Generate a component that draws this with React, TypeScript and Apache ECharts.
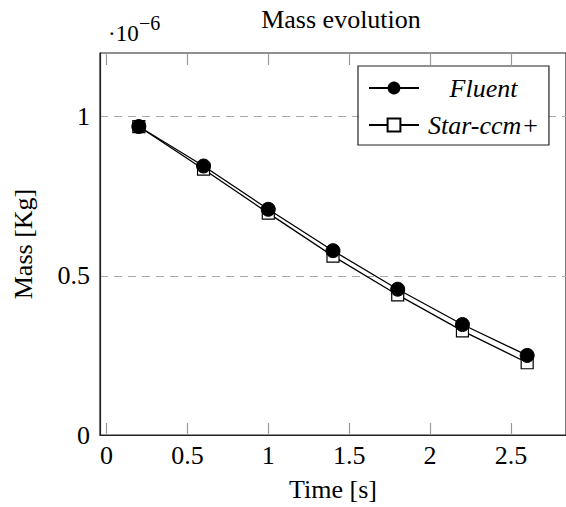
import React, { useEffect, useRef } from "react";
import * as echarts from "echarts";

const timeS = [0.2, 0.6, 1.0, 1.4, 1.8, 2.2, 2.6];
const fluentMass = [0.969e-6, 0.845e-6, 0.709e-6, 0.579e-6, 0.458e-6, 0.347e-6, 0.25e-6];
const starMass = [0.969e-6, 0.835e-6, 0.697e-6, 0.562e-6, 0.44e-6, 0.327e-6, 0.227e-6];
const seriesNames = ["Fluent", "Star-ccm+"];
const xTicks = [0, 0.5, 1, 1.5, 2, 2.5];
const yTicks = [0, 0.5e-6, 1e-6];

const FONT = "'Liberation Serif', 'Times New Roman', serif";

export default function App() {
  const ref = useRef<HTMLDivElement>(null);
  useEffect(() => {
    if (!ref.current) return;
    const chart = echarts.init(ref.current, undefined, { renderer: "svg" });
    const pairs = (ys: number[]) => timeS.map((t, i) => [t, ys[i]]);
    const tickStyle = {
      show: true,
      inside: true,
      length: 12,
      customValues: xTicks,
      lineStyle: { color: "#999", width: 1.2 },
    };
    const xAxisBase = {
      type: "value" as const,
      min: -0.04,
      max: 2.84,
      splitNumber: 6,
      splitLine: { show: false },
    };
    chart.setOption({
      animation: false,
      backgroundColor: "#fff",
      title: {
        text: "Mass evolution",
        left: 336,
        textAlign: "center",
        top: 1,
        textStyle: { fontFamily: FONT, fontSize: 26, fontWeight: "normal", color: "#000" },
      },
      grid: {
        left: 100,
        right: 0,
        top: 53,
        bottom: 70,
        show: true,
        borderColor: "#222",
        borderWidth: 1.2,
        backgroundColor: "transparent",
      },
      legend: {
        orient: "vertical",
        left: 358,
        top: 66,
        data: seriesNames,
        itemWidth: 50,
        itemHeight: 16,
        itemGap: 11,
        padding: [9, 10, 7, 10],
        borderColor: "#222",
        borderWidth: 1.2,
        backgroundColor: "#fff",
        formatter: (n: string) => `{c|${n}}`,
        textStyle: {
          rich: {
            c: {
              width: 119,
              align: "center",
              fontFamily: FONT,
              fontStyle: "italic",
              fontSize: 26,
              color: "#000",
            },
          },
        },
      },
      xAxis: [
        {
          ...xAxisBase,
          position: "bottom",
          name: "Time [s]",
          nameLocation: "middle",
          nameGap: 41,
          nameTextStyle: { fontFamily: FONT, fontSize: 26, color: "#000" },
          axisLine: { show: true, onZero: false, lineStyle: { color: "#222", width: 1.2 } },
          axisTick: tickStyle,
          axisLabel: {
            customValues: xTicks,
            margin: 7,
            fontFamily: FONT,
            fontSize: 26,
            color: "#000",
            formatter: (v: number) => String(Math.round(v * 10) / 10),
          },
        },
        {
          ...xAxisBase,
          position: "top",
          axisLine: { show: false, onZero: false },
          axisTick: tickStyle,
          axisLabel: { show: false },
        },
      ],
      yAxis: {
        type: "value",
        min: 0,
        max: 1.2e-6,
        interval: 0.5e-6,
        name: "Mass [Kg]",
        nameLocation: "middle",
        nameGap: 64,
        nameTextStyle: { fontFamily: FONT, fontSize: 26, color: "#000" },
        axisLine: { show: true, onZero: false, lineStyle: { color: "#222", width: 1.2 } },
        axisTick: { show: false },
        axisLabel: {
          customValues: yTicks,
          margin: 10,
          fontFamily: FONT,
          fontSize: 26,
          color: "#000",
          formatter: (v: number) => String(Math.round(v * 1e7) / 10),
        },
        splitLine: {
          show: true,
          showMinLine: false,
          showMaxLine: false,
          lineStyle: { color: "#aaa", type: [8, 6], width: 1.2 },
        },
      },
      graphic: [
        {
          type: "text",
          left: 108,
          top: 22,
          style: { text: "·10", fontFamily: FONT, fontSize: 23, fill: "#000" },
        },
        {
          type: "text",
          left: 139,
          top: 13,
          style: { text: "−6", fontFamily: FONT, fontSize: 20, fill: "#000" },
        },
      ],
      series: [
        {
          name: "Star-ccm+",
          type: "line",
          xAxisIndex: 0,
          data: pairs(starMass),
          symbol: "rect",
          symbolSize: 12,
          z: 2,
          lineStyle: { color: "#000", width: 1.3 },
          itemStyle: { color: "#fff", borderColor: "#000", borderWidth: 1.2 },
        },
        {
          name: "Fluent",
          type: "line",
          xAxisIndex: 0,
          data: pairs(fluentMass),
          symbol: "circle",
          symbolSize: 14,
          z: 3,
          lineStyle: { color: "#000", width: 1.3 },
          itemStyle: { color: "#000", borderColor: "#000" },
        },
      ],
    });
    return () => chart.dispose();
  }, []);
  return (
    <div
      ref={ref}
      style={{ position: "fixed", left: 0, top: 0, width: 566, height: 507 }}
    />
  );
}
